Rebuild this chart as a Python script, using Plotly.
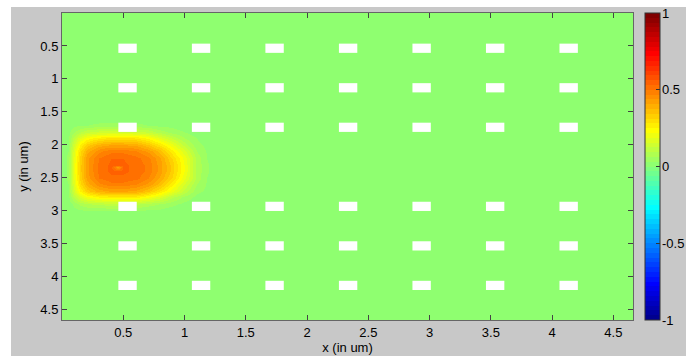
import numpy as np
import plotly.graph_objects as go

# ---------------- data ----------------
x_coords = [0.0, 0.05, 0.1, 0.15, 0.2, 0.3, 0.4, 0.46, 0.5, 0.6, 0.7, 0.8, 0.9, 1.0, 1.1, 1.2, 1.4, 4.66]
y_coords = [0.0, 1.6, 1.7, 1.8, 1.9, 2.0, 2.1, 2.2, 2.3, 2.34, 2.4, 2.5, 2.6, 2.7, 2.8, 2.9, 3.0, 3.1, 4.66]

bg_row = [0.01] * 18
field = [
    bg_row,                                                                                          # 0.0
    bg_row,                                                                                          # 1.6
    [0.01,0.01,0.02,0.03,0.03,0.04,0.04,0.04,0.04,0.04,0.03,0.02,0.02,0.01,0.01,0.01,0.01,0.01],   # 1.7
    [0.01,0.02,0.06,0.09,0.12,0.14,0.14,0.14,0.14,0.14,0.12,0.08,0.05,0.03,0.01,0.01,0.01,0.01],   # 1.8
    [0.01,0.02,0.11,0.18,0.23,0.27,0.29,0.29,0.29,0.28,0.24,0.18,0.12,0.06,0.03,0.01,0.01,0.01],   # 1.9
    [0.01,0.03,0.15,0.25,0.33,0.39,0.41,0.41,0.41,0.40,0.35,0.28,0.20,0.11,0.04,0.02,0.01,0.01],   # 2.0
    [0.01,0.03,0.18,0.30,0.39,0.46,0.49,0.49,0.49,0.47,0.43,0.36,0.26,0.16,0.06,0.02,0.01,0.01],   # 2.1
    [0.01,0.04,0.19,0.32,0.43,0.50,0.53,0.53,0.53,0.51,0.48,0.41,0.31,0.20,0.08,0.02,0.01,0.01],   # 2.2
    [0.01,0.04,0.20,0.33,0.43,0.51,0.54,0.54,0.54,0.52,0.49,0.42,0.33,0.21,0.08,0.03,0.01,0.01],   # 2.3
    [0.01,0.04,0.20,0.33,0.43,0.51,0.54,0.42,0.54,0.52,0.49,0.42,0.33,0.21,0.08,0.03,0.01,0.01],   # 2.34
    [0.01,0.04,0.20,0.33,0.43,0.51,0.54,0.54,0.54,0.52,0.49,0.42,0.33,0.21,0.08,0.03,0.01,0.01],   # 2.4
    [0.01,0.04,0.19,0.32,0.42,0.50,0.52,0.52,0.52,0.51,0.47,0.40,0.31,0.19,0.08,0.02,0.01,0.01],   # 2.5
    [0.01,0.03,0.18,0.30,0.39,0.46,0.49,0.49,0.49,0.47,0.43,0.36,0.26,0.15,0.06,0.02,0.01,0.01],   # 2.6
    [0.01,0.03,0.15,0.25,0.33,0.39,0.41,0.41,0.41,0.40,0.35,0.28,0.20,0.11,0.04,0.02,0.01,0.01],   # 2.7
    [0.01,0.02,0.10,0.16,0.21,0.25,0.26,0.26,0.26,0.26,0.22,0.17,0.10,0.05,0.02,0.01,0.01,0.01],   # 2.8
    [0.01,0.01,0.04,0.07,0.09,0.10,0.11,0.11,0.11,0.10,0.08,0.06,0.04,0.02,0.01,0.01,0.01,0.01],   # 2.9
    [0.01,0.01,0.02,0.02,0.03,0.03,0.03,0.03,0.03,0.03,0.02,0.02,0.01,0.01,0.01,0.01,0.01,0.01],   # 3.0
    bg_row,                                                                                          # 3.1
    bg_row,                                                                                          # 4.66
]

hole_x = [0.535, 1.135, 1.735, 2.335, 2.935, 3.535, 4.135]
hole_y = [0.535, 1.135, 1.735, 2.935, 3.535, 4.135]

tick_vals = [0.5, 1, 1.5, 2, 2.5, 3, 3.5, 4, 4.5]
tick_text = ["0.5", "1", "1.5", "2", "2.5", "3", "3.5", "4", "4.5"]
cbar_vals = [-1, -0.5, 0, 0.5, 1]
cbar_text = ["-1", "-0.5", "0", "0.5", "1"]
z_min, z_max = -1, 1

# ---------------- style ----------------
HOLE_W = 0.15
HOLE_H = 0.14
FONT = "Liberation Sans, Arial, sans-serif"
GRAY = "#c8c8c8"
W, H = 686, 356
L, R, T, B = 62, 0, 13, 36          # margins (px)
PLOT_RIGHT = 633                    # px of the plot's right edge
CB_LEFT = 645                       # px of the colorbar's left edge
CB_THICK = 15
PW = W - L - R
PH = H - T - B


def matlab_jet(m=64):
    n = int(np.ceil(m / 4))
    u = np.concatenate([np.arange(1, n + 1) / n, np.ones(n - 1), np.arange(n, 0, -1) / n])
    g = int(np.ceil(n / 2)) - (1 if m % 4 == 1 else 0) + np.arange(1, len(u) + 1)
    r = g + n
    b = g - n
    J = np.zeros((m, 3))
    for col, idx in ((0, r), (1, g), (2, b)):
        ok = (idx >= 1) & (idx <= m)
        J[idx[ok] - 1, col] = u[ok]
    return J


J = matlab_jet(64)
colorscale = []
for i, c in enumerate(J):
    col = "rgb(%d,%d,%d)" % tuple(int(round(v * 255)) for v in c)
    colorscale.append([i / 64, col])
    colorscale.append([(i + 1) / 64, col])

px = lambda v: (v - L) / PW
py = lambda v: 1 - (v - T) / PH

fig = go.Figure()
fig.add_trace(go.Heatmap(
    x=x_coords, y=y_coords, z=field,
    zmin=z_min, zmax=z_max, zsmooth="best",
    colorscale=colorscale,
    colorbar=dict(
        x=px(CB_LEFT), xanchor="left", xpad=0,
        y=0.5, yanchor="middle", len=1.0, lenmode="fraction", ypad=0,
        thickness=CB_THICK,
        outlinecolor="#333", outlinewidth=1,
        tickvals=cbar_vals, ticks="inside", ticklen=4, tickcolor="#333",
        showticklabels=False,
    ),
    hoverinfo="skip",
))

# colorbar tick labels (as text, so they can overflow the window like the original)
annotations = []
for v, t in zip(cbar_vals, cbar_text):
    annotations.append(dict(
        xref="paper", yref="paper",
        x=px(CB_LEFT + CB_THICK + 1), y=(v - z_min) / (z_max - z_min),
        xanchor="left", yanchor="middle", text=t, showarrow=False,
        font=dict(family=FONT, size=13, color="black"), borderpad=0,
    ))

shapes = []
for hy in hole_y:
    for hx in hole_x:
        shapes.append(dict(type="rect", xref="x", yref="y",
                           x0=hx - HOLE_W / 2, x1=hx + HOLE_W / 2,
                           y0=hy - HOLE_H / 2, y1=hy + HOLE_H / 2,
                           fillcolor="white", line=dict(width=0), layer="above"))

# white strips at left and top of the figure window
shapes.append(dict(type="rect", xref="paper", yref="paper",
                   x0=px(-2), x1=px(11), y0=py(360), y1=py(-2),
                   fillcolor="white", line=dict(width=0), layer="below"))
shapes.append(dict(type="rect", xref="paper", yref="paper",
                   x0=px(-2), x1=px(690), y0=py(7), y1=py(-2),
                   fillcolor="white", line=dict(width=0), layer="below"))

axis_common = dict(
    tickvals=tick_vals, ticktext=tick_text,
    ticks="inside", ticklen=5, tickcolor="#444",
    showline=True, linecolor="#666", linewidth=1, mirror="ticks",
    showgrid=False, zeroline=False, automargin=False,
    tickfont=dict(family=FONT, size=13, color="black"),
)

fig.update_layout(
    width=W, height=H,
    margin=dict(l=L, r=R, t=T, b=B),
    paper_bgcolor=GRAY, plot_bgcolor="white",
    font=dict(family=FONT, size=13, color="black"),
    shapes=shapes, annotations=annotations,
    xaxis=dict(range=[0, 4.66], domain=[0, (PLOT_RIGHT - L) / PW],
               title=dict(text="x (in um)", standoff=1,
                          font=dict(family=FONT, size=13)),
               **axis_common),
    yaxis=dict(range=[4.66, 0], title=dict(text="y (in um)", standoff=8,
                                           font=dict(family=FONT, size=13)),
               **axis_common),
)

fig.write_html("out.html")
